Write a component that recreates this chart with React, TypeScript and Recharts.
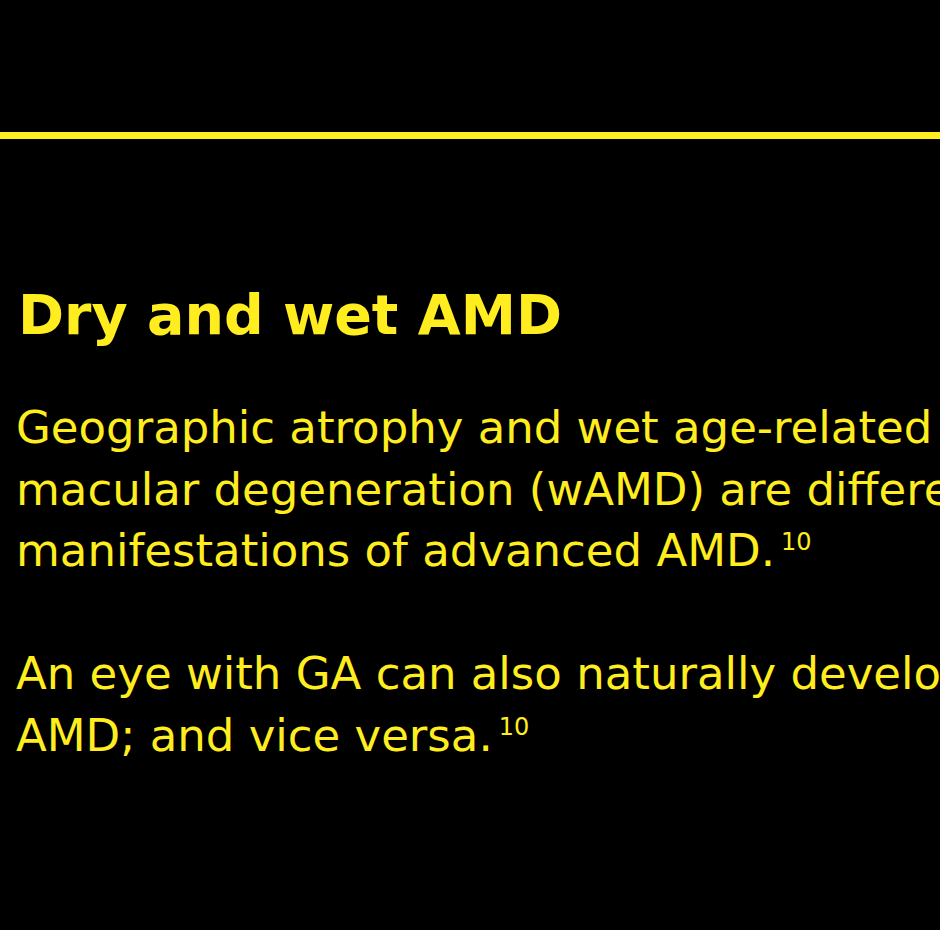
import { Line, LineChart, XAxis, YAxis } from "recharts";

const title = "Dry and wet AMD";

const paragraphOne = [
  { text: "Geographic atrophy and wet age-related", note: "" },
  { text: "macular degeneration (wAMD) are different", note: "" },
  { text: "manifestations of advanced AMD.", note: "10" },
];

const paragraphTwo = [
  { text: "An eye with GA can also naturally develop w", note: "" },
  { text: "AMD; and vice versa.", note: "10" },
];

// horizontal rule under the header band, drawn as a flat line series
const ruleX = [0, 1];
const ruleY = [135.5, 135.5];
const ruleData = ruleX.map((x, i) => ({ x, rule: ruleY[i] }));

const YELLOW = "#ffed1f";
const FONT = "Verdana, 'DejaVu Sans', sans-serif";

type TextLine = { text: string; note: string };

function Paragraph({ lines, top }: { lines: TextLine[]; top: number }) {
  return (
    <div style={{ position: "absolute", left: 16, top, whiteSpace: "nowrap" }}>
      {lines.map((l, i) => (
        <div key={i} style={{ fontSize: 45, lineHeight: "61.5px", height: 61.5 }}>
          {l.text}
          {l.note && (
            <span
              style={{
                fontSize: 24,
                position: "relative",
                top: -16,
                marginLeft: 6,
              }}
            >
              {l.note}
            </span>
          )}
        </div>
      ))}
    </div>
  );
}

export default function App() {
  return (
    <div
      style={{
        position: "fixed",
        left: 0,
        top: 0,
        width: 940,
        height: 930,
        background: "#000",
        overflow: "hidden",
        color: YELLOW,
        fontFamily: FONT,
      }}
    >
      <LineChart
        width={940}
        height={930}
        data={ruleData}
        margin={{ top: 0, right: 0, bottom: 0, left: 0 }}
      >
        <XAxis dataKey="x" type="number" domain={[0, 1]} hide />
        <YAxis hide domain={[0, 930]} reversed />
        <Line
          dataKey="rule"
          stroke={YELLOW}
          strokeWidth={7}
          dot={false}
          activeDot={false}
          isAnimationActive={false}
        />
      </LineChart>
      <div
        style={{
          position: "absolute",
          left: 18,
          top: 280,
          fontSize: 55.5,
          fontWeight: "bold",
          whiteSpace: "nowrap",
          lineHeight: "70px",
        }}
      >
        {title}
      </div>
      <Paragraph lines={paragraphOne} top={397} />
      <Paragraph lines={paragraphTwo} top={643} />
    </div>
  );
}
